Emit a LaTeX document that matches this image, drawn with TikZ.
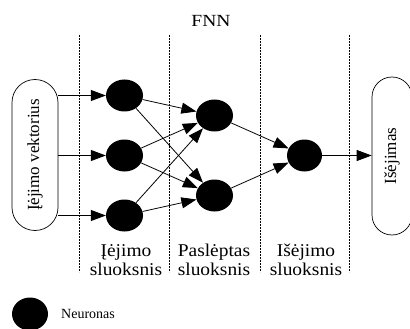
\documentclass[tikz,border=0pt]{standalone}
\usepackage{fontspec}
\setmainfont{Liberation Serif}
\usetikzlibrary{shapes.geometric,arrows.meta}
\newcommand\widetext[2]{\scalebox{#1}[1]{#2}}
\newcommand\twolines[2]{\widetext{1.08}{\fontsize{18}{19}\selectfont\begin{tabular}{@{}c@{}}#1\\#2\end{tabular}}}
\begin{document}
\begin{tikzpicture}[x=1pt,y=-1pt,
  neuron/.style={ellipse,fill=black,inner sep=0pt,minimum width=37pt,minimum height=32pt},
  conn/.style={line width=0.8pt,-{Triangle[length=15pt,width=11pt]}},
  sepline/.style={line width=0.7pt,dash pattern=on 2pt off 1pt},
  lbl/.style={inner sep=0pt},
  iobox/.style={draw,line width=0.7pt,inner sep=0pt,font=\fontsize{17}{17}\selectfont}]
\clip (0,0) rectangle (410,329);
% title
\node[font=\fontsize{17}{17}\selectfont] (title) at (211,21) {\widetext{1.15}{FNN}};
% separators
\coordinate (s1t) at (79,35);  \coordinate (s1b) at (79,272);
\coordinate (s2t) at (169,35); \coordinate (s2b) at (169,272);
\coordinate (s3t) at (260,35); \coordinate (s3b) at (260,272);
\coordinate (s4t) at (349,35); \coordinate (s4b) at (349,272);
\draw[sepline] (s1t) -- (s1b);
\draw[sepline] (s2t) -- (s2b);
\draw[sepline] (s3t) -- (s3b);
\draw[sepline] (s4t) -- (s4b);
% io boxes
\node[iobox,rounded corners=23pt,minimum width=46pt,minimum height=151pt] (inbox) at (35,155) {\rotatebox{90}{Įėjimo vektorius}};
\node[iobox,rounded corners=20pt,minimum width=40pt,minimum height=158pt] (outbox) at (392,156) {\rotatebox{90}{Išėjimas}};
% neurons
\node[neuron] (i1) at (124.5,95.5) {};
\node[neuron] (i2) at (124.5,155.5) {};
\node[neuron] (i3) at (124.5,215.5) {};
\node[neuron] (h1) at (214.5,115.5) {};
\node[neuron] (h2) at (214.5,195.5) {};
\node[neuron,minimum width=35pt] (o1) at (304.5,155.5) {};
% connections
\draw[conn] (inbox.east |- i1) -- (i1);
\draw[conn] (inbox.east |- i2) -- (i2);
\draw[conn] (inbox.east |- i3) -- (i3);
\foreach \a in {i1,i2,i3}{
  \foreach \b in {h1,h2}{
    \draw[conn] (\a) -- (\b);
  }
}
\draw[conn] (h1) -- (o1);
\draw[conn] (h2) -- (o1);
\draw[conn] (o1) -- (outbox.west |- o1);
% layer labels
\node[lbl] (l1) at (126,262) {\twolines{Įėjimo}{sluoksnis}};
\node[lbl] (l2) at (214,262) {\twolines{Paslėptas}{sluoksnis}};
\node[lbl] (l3) at (306,262) {\twolines{Išėjimo}{sluoksnis}};
% legend
\node[neuron,minimum width=36pt,minimum height=33pt] (leg) at (30,314) {};
\node[font=\fontsize{14}{14}\selectfont,anchor=west,inner sep=0pt] (legt) at (61,314) {Neuronas};
\end{tikzpicture}
\end{document}
